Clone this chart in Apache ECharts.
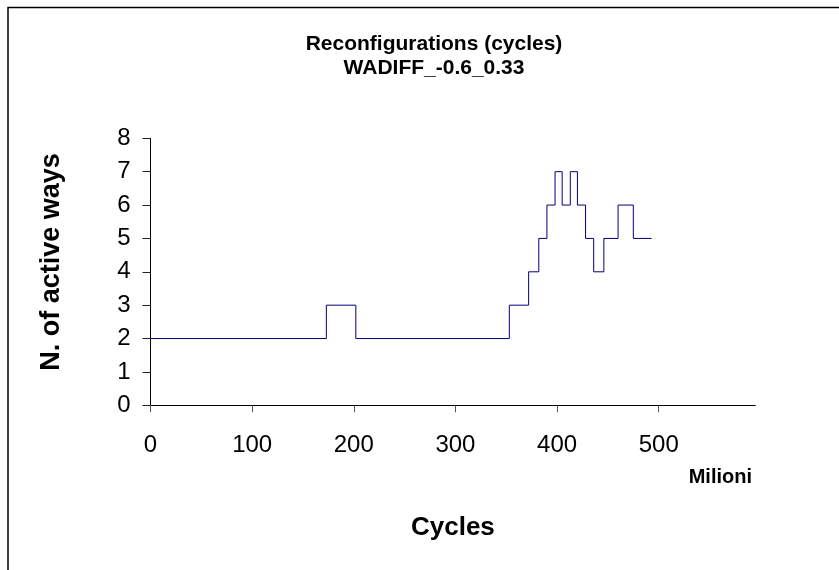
<!DOCTYPE html>
<html>
<head>
<meta charset="utf-8">
<script src="https://cdn.jsdelivr.net/npm/echarts@6/dist/echarts.min.js"></script>
<style>html,body{margin:0;padding:0;background:#fff}#c{width:839px;height:570px}</style>
</head>
<body>
<div id="c"></div>
<script>
// Change points (millions of cycles) and number of active ways from that point on
var cycles = [0, 173, 202, 353, 372, 382, 390, 398, 405, 413, 420, 428, 436, 446, 460, 475, 493];
var activeWays = [2, 3, 2, 3, 4, 5, 6, 7, 6, 7, 6, 5, 4, 5, 6, 5, 5];
var xTicks = [0, 100, 200, 300, 400, 500];
var titleLines = ['Reconfigurations (cycles)', 'WADIFF_-0.6_0.33'];

var FONT = '"Liberation Sans", Arial, sans-serif';
var chart = echarts.init(document.getElementById('c'), null, {renderer: 'canvas'});
var seriesData = cycles.map(function (x, i) { return [x, activeWays[i]]; });

chart.setOption({
  animation: false,
  backgroundColor: '#fff',
  title: {
    text: titleLines.join('\n'),
    left: 429,
    textAlign: 'center',
    top: 27,
    textStyle: {fontFamily: FONT, fontSize: 21, fontWeight: 'bold', color: '#000', lineHeight: 24}
  },
  grid: {left: 150.5, right: 83.7, top: 138.3, bottom: 164.7, containLabel: false},
  xAxis: {
    type: 'value', min: 0, max: 595, interval: 100,
    name: 'Cycles', nameLocation: 'middle', nameGap: 110,
    nameTextStyle: {fontFamily: FONT, fontSize: 26, fontWeight: 'bold', color: '#000'},
    axisLine: {show: true, lineStyle: {color: '#000', width: 1}},
    axisTick: {show: true, length: 7, lineStyle: {color: '#555'}, customValues: xTicks},
    axisLabel: {fontFamily: FONT, fontSize: 24, color: '#000', margin: 28, customValues: xTicks},
    splitLine: {show: false}
  },
  yAxis: {
    type: 'value', min: 0, max: 8, interval: 1,
    axisLine: {show: true, lineStyle: {color: '#000', width: 1}},
    axisTick: {show: true, length: 8, lineStyle: {color: '#222'}},
    axisLabel: {fontFamily: FONT, fontSize: 24, color: '#000', margin: 20},
    splitLine: {show: false}
  },
  series: [{
    type: 'line', step: 'end', data: seriesData,
    symbol: 'none', lineStyle: {color: '#000080', width: 1}
  }],
  graphic: [
    {type: 'rect', shape: {x: 8, y: 7.5, width: 1000, height: 1000},
     style: {fill: 'none', stroke: '#000', lineWidth: 1.5}, silent: true},
    {type: 'text', x: 52, y: 262, rotation: Math.PI / 2,
     style: {text: 'N. of active ways', font: 'bold 27px ' + FONT, fill: '#000', textAlign: 'center', textVerticalAlign: 'middle'}},
    {type: 'text', x: 752, y: 477,
     style: {text: 'Milioni', font: 'bold 20px ' + FONT, fill: '#000', textAlign: 'right', textVerticalAlign: 'middle'}}
  ]
});
</script>
</body>
</html>
